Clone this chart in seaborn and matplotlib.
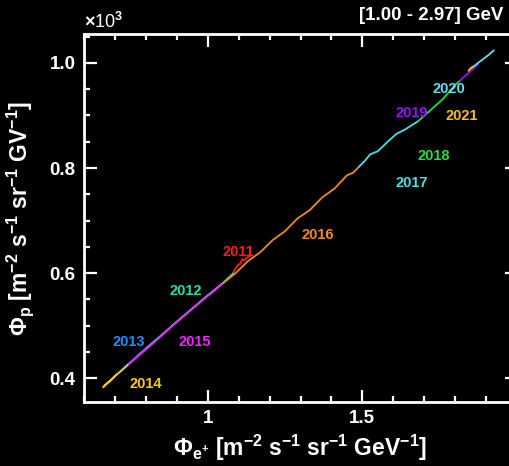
import numpy as np
import pandas as pd
import matplotlib
matplotlib.use("Agg")
import matplotlib.pyplot as plt
from matplotlib.ticker import MultipleLocator, FuncFormatter
import seaborn as sns

# ---- data ----
years = ["2011", "2012", "2013", "2014", "2015", "2016",
         "2017", "2018", "2019", "2020", "2021"]

pos_2011 = [1.140, 1.128, 1.118, 1.112, 1.105, 1.098, 1.090, 1.083]
prot_2011 = [0.634, 0.630, 0.624, 0.627, 0.618, 0.616, 0.609, 0.602]
pos_2012 = [1.083, 1.05, 1.00, 0.95, 0.90, 0.85, 0.80]
prot_2012 = [0.600, 0.582, 0.558, 0.533, 0.508, 0.482, 0.457]
pos_2013 = [0.80, 0.78, 0.76, 0.74, 0.72, 0.705]
prot_2013 = [0.457, 0.447, 0.436, 0.426, 0.415, 0.407]
pos_2014 = [0.705, 0.69, 0.675, 0.662, 0.668, 0.685, 0.70, 0.72, 0.745]
prot_2014 = [0.407, 0.399, 0.391, 0.383, 0.387, 0.395, 0.404, 0.414, 0.427]
pos_2015 = [0.745, 0.78, 0.82, 0.86, 0.90, 0.94, 0.98, 1.02, 1.05]
prot_2015 = [0.427, 0.445, 0.465, 0.486, 0.507, 0.527, 0.547, 0.566, 0.581]
pos_2016 = [1.05, 1.09, 1.13, 1.17, 1.21, 1.25, 1.29, 1.33, 1.37, 1.41, 1.45, 1.47, 1.49]
prot_2016 = [0.581, 0.600, 0.623, 0.640, 0.663, 0.680, 0.704, 0.720, 0.744, 0.761, 0.786, 0.791, 0.803]
pos_2017 = [1.49, 1.51, 1.525, 1.55, 1.58, 1.61, 1.64, 1.68]
prot_2017 = [0.803, 0.815, 0.826, 0.832, 0.849, 0.865, 0.874, 0.889]
pos_2018 = [1.68, 1.72, 1.76, 1.80, 1.815]
prot_2018 = [0.889, 0.910, 0.931, 0.958, 0.966]
pos_2019 = [1.815, 1.83, 1.845, 1.86, 1.875]
prot_2019 = [0.966, 0.974, 0.982, 0.990, 0.998]
pos_2020 = [1.852, 1.87, 1.89, 1.91, 1.925]
prot_2020 = [0.990, 0.998, 1.007, 1.016, 1.024]
pos_2021 = [1.843, 1.850, 1.858]
prot_2021 = [0.985, 0.990, 0.993]

label_x = [1.10, 0.93, 0.745, 0.80, 0.958, 1.357, 1.66, 1.73, 1.66, 1.78, 1.82]
label_y = [0.641, 0.566, 0.470, 0.389, 0.470, 0.672, 0.771, 0.823, 0.905, 0.950, 0.899]

colors = ["#ff1a1a", "#1ee0b0", "#1e8fff", "#ffc800", "#ff22ff", "#f08a1c",
          "#48e0ec", "#20e040", "#9a10ff", "#60e0f0", "#ffc000"]

pos_all = [pos_2011, pos_2012, pos_2013, pos_2014, pos_2015, pos_2016,
           pos_2017, pos_2018, pos_2019, pos_2020, pos_2021]
prot_all = [prot_2011, prot_2012, prot_2013, prot_2014, prot_2015, prot_2016,
            prot_2017, prot_2018, prot_2019, prot_2020, prot_2021]

rows = []
for yr, px, py in zip(years, pos_all, prot_all):
    for a, b in zip(px, py):
        rows.append((yr, a, b))
df = pd.DataFrame(rows, columns=["year", "pos", "prot"])
palette = dict(zip(years, colors))

# ---- styling ----
sns.set_theme(style="dark")
plt.rcParams["font.family"] = ["Liberation Sans", "DejaVu Sans"]
plt.rcParams["font.weight"] = "bold"
plt.rcParams["mathtext.fontset"] = "custom"
plt.rcParams["mathtext.rm"] = "Liberation Sans:bold"
plt.rcParams["mathtext.it"] = "Liberation Sans:bold"
plt.rcParams["mathtext.bf"] = "Liberation Sans:bold"
plt.rcParams["mathtext.sf"] = "Liberation Sans:bold"

fig = plt.figure(figsize=(5.10, 4.66), dpi=100, facecolor="black")
ax = fig.add_axes([84 / 510, 64 / 466, 433 / 510, 368 / 466])
ax.set_facecolor("black")

sns.lineplot(data=df, x="pos", y="prot", hue="year", hue_order=years,
             palette=palette, sort=False, estimator=None, legend=False,
             linewidth=1.3, ax=ax)

for yr, lx, ly, c in zip(years, label_x, label_y, colors):
    ax.text(lx, ly, yr, color=c, fontsize=10.5, fontweight="bold",
            ha="center", va="center")

ax.set_xlim(0.6, 2.0)
ax.set_ylim(0.355, 1.055)
ax.xaxis.set_major_locator(MultipleLocator(0.5))
ax.xaxis.set_minor_locator(MultipleLocator(0.1))
ax.yaxis.set_major_locator(MultipleLocator(0.2))
ax.yaxis.set_minor_locator(MultipleLocator(0.05))
ax.xaxis.set_major_formatter(FuncFormatter(lambda v, p: f"{v:g}" if v < 1.9 else ""))
ax.yaxis.set_major_formatter(FuncFormatter(lambda v, p: f"{v:.1f}"))

ax.grid(False)
for s in ax.spines.values():
    s.set_visible(True)
    s.set_color("white")
    s.set_linewidth(2.0)
ax.tick_params(which="both", direction="in", colors="white",
               top=True, right=True, bottom=True, left=True, labelsize=13.5,
               width=1.6, pad=6)
ax.tick_params(which="major", length=9)
ax.tick_params(which="minor", length=4)
for lab in ax.get_xticklabels() + ax.get_yticklabels():
    lab.set_fontweight("bold")

ax.set_xlabel(r"$\Phi_{\rm e^{+}}$ [m$^{-2}$ s$^{-1}$ sr$^{-1}$ GeV$^{-1}$]",
              color="white", fontsize=16.5, fontweight="bold", labelpad=4)
ax.set_ylabel(r"$\Phi_{\rm p}$ [m$^{-2}$ s$^{-1}$ sr$^{-1}$ GV$^{-1}$]",
              color="white", fontsize=16.5, fontweight="bold", labelpad=10)

fig.text(84 / 510, 1 - 32 / 466, r"$\times$10$^{3}$", color="white",
         fontsize=13, ha="left", va="bottom", fontweight="normal")
fig.text(359 / 510, 1 - 16 / 466, "[1.00 - 2.97] GeV", color="white",
         fontsize=13.5, ha="left", va="center", fontweight="bold")

fig.savefig("out.png", dpi=100, facecolor="black")
